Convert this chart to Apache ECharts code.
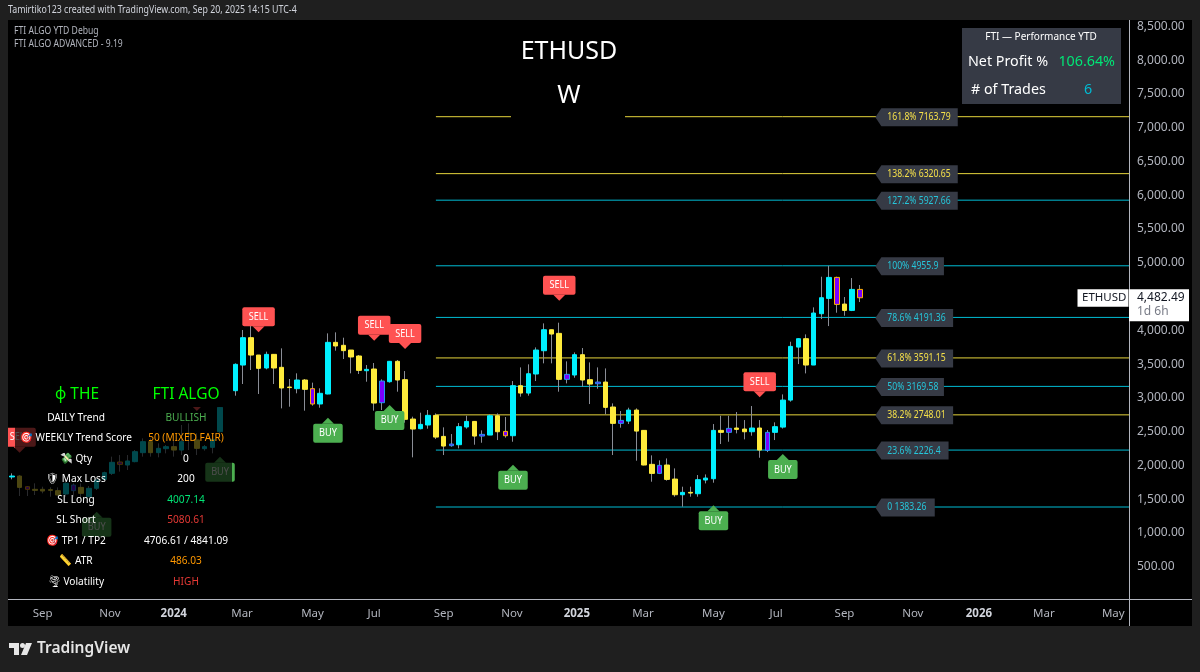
<!DOCTYPE html>
<html><head><meta charset="utf-8">
<style>html,body{margin:0;padding:0;background:#1f1f1f}#c{width:1200px;height:672px}</style>
<script src="https://cdn.jsdelivr.net/npm/echarts@6/dist/echarts.min.js"></script>
</head><body><div id="c"></div>
<script>
const lastWeek = '2025-09-15';
const opens = [1828,1842,1684,1645,1645,1640,1625,1576,1625,1674,1536,1660,1793,1882,2050,2005,2055,2188,2351,2188,2247,2277,2227,2474,2376,2247,2267,2499,null,
3106,3486,3891,3634,3442,3644,3452,3160,3136,3264,3136,2909,3057,3822,3778,3708,3620,3402,3427,2928,3239,3541,3269,2686,2543,2598,2740,
2429,2291,2306,2568,2651,2434,2449,2735,2503,2439,3180,3071,3353,3698,4009,3955,3274,3338,3639,3269,3209,3234,2864,2622,2656,2819,2518,2015,1881,2005,1797,1565,1600,1580,1783,1802,2518,2489,2553,2538,2498,2553,2222,2489,
2567,2967,3752,3876,3486,4246,4473,4784,4389,4295,4606];
const closes = [1842,1674,1645,1630,1620,1630,1561,1734,1709,1586,1660,1783,1892,2045,2015,2065,2203,2351,2188,2252,2277,2227,2351,2464,2252,2277,2385,2859,null,
3496,3891,3634,3437,3644,3442,3146,3152,3264,3126,2909,3067,3822,3768,3699,3605,3407,3422,2923,3249,3541,3264,2682,2538,2607,2741,2419,
2286,2316,2573,2651,2434,2459,2735,2498,2439,3180,3071,3357,3708,4009,3945,3274,3348,3639,3264,3204,3234,2859,2622,2666,2819,2508,2005,1881,2000,1792,1565,1600,1590,1788,1812,2518,2489,2548,2533,2498,2553,2227,2489,2573,
2967,3762,3876,3486,4256,4483,4784,4384,4295,4606,4482.49];
const lows = [1793,1546,1546,1561,1586,1536,1551,1536,1536,1512,1536,1635,1783,1857,1907,1931,2045,2129,2129,2119,2178,2129,2153,2227,2153,2218,2178,2400,null,
3032,3205,3412,3057,3422,3205,2844,2869,3067,2810,2884,2854,3052,3699,3575,3363,3353,3239,2810,2820,3225,3091,2632,2119,2533,2543,2390,
2153,2276,2252,2543,2306,2335,2449,2375,2410,2350,3017,3032,3249,3511,3511,3091,3214,3298,3165,2908,3135,2755,2153,2558,2612,2069,2000,1758,1871,1773,1536,1388,1536,1536,1733,1743,2316,2350,2474,2385,2439,2113,2197,2375,
2545,2943,3500,3362,3486,4167,4063,4261,4216,4285,4419];
const highs = [1882,1857,1694,1734,1684,1674,1674,1758,1734,1734,1694,1808,1907,2129,2153,2153,2227,2400,2400,2326,2301,2376,2598,2622,2474,2301,2474,2869,null,
3511,4005,4064,3634,3684,3644,3733,3279,3363,3279,3225,3141,3955,3970,3891,3708,3634,3486,3516,3274,3546,3560,3397,2721,2780,2820,2770,
2563,2464,2627,2735,2656,2518,2755,2770,2716,3249,3451,3496,3747,4103,4009,4113,3540,3673,3738,3525,3451,3436,2918,2805,2854,2844,2523,2148,2074,2103,1955,1684,1684,1857,1866,2612,2735,2735,2790,2671,2879,2671,2523,2637,
3051,3831,3881,3940,4340,4794,4956,4794,4493,4774,4671];
const purpleWeeks = [2,8,14,39,48,57,61,64,72,76,79,84,93,98,107,110];
const signalWeeks = [32,47,51,71,97,41,49,65,91,100,1,24,27,11];
const signalPrices = [3970,3846,3723,4438,3008,2706,2894,2010,1409,2168,2187,2805,2128,1313];
const signalTypes = ['SELL','SELL','SELL','SELL','SELL','BUY','BUY','BUY','BUY','BUY','SELL','SELL','BUY','BUY'];
const fibNames = ['161.8%','138.2%','127.2%','100%','78.6%','61.8%','50%','38.2%','23.6%','0'];
const fibValues = [7163.79,6320.65,5927.66,4955.9,4191.36,3591.15,3169.58,2748.01,2226.4,1383.26];
const fibStartWeek = 55;
const fibTagDate = '2025-09-29';
const monthDates = ['2023-09-04','2023-11-04','2024-01-01','2024-03-03','2024-05-06','2024-07-01','2024-09-02','2024-11-03','2025-01-01','2025-03-02','2025-05-05','2025-07-01','2025-09-01','2025-11-02','2026-01-01','2026-03-01','2026-05-03'];
const monthLabels = ['Sep','Nov','2024','Mar','May','Jul','Sep','Nov','2025','Mar','May','Jul','Sep','Nov','2026','Mar','May'];
const tableRows = [
 ['DAILY Trend','BULLISH','#4caf50'],
 ['\u{1F3AF} WEEKLY Trend Score','50 (MIXED FAIR)','#ff9800'],
 ['\u{1F4B8} Qty','0','#ffffff'],
 ['\u{1F6E1} Max Loss','200','#ffffff'],
 ['SL Long','4007.14','#00e676'],
 ['SL Short','5080.61','#e53935'],
 ['\u{1F3AF} TP1 / TP2','4706.61 / 4841.09','#ffffff'],
 ['\u{1F4CF} ATR','486.03','#ff9800'],
 ['\u{1F32A} Volatility','HIGH','#e53935']
];

const WEEK = 7*864e5;
const T_LAST = Date.parse(lastWeek);
const T_FIRST = T_LAST - 110*WEEK;
const weekTs = i => T_FIRST + i*WEEK;
const T_MIN = T_LAST - 110.5*WEEK, T_MAX = T_LAST + 34.9*WEEK;
const CYAN='#00f0ff', YEL='#ffeb3b', PUR='#7b00ff', WICK='#8a8d96', TXT='#b2b5be';
const FONT='"Noto Sans"';

const wickData=[], bodyData=[];
opens.forEach((o,i)=>{
  if(o==null) return;
  const c=closes[i], t=weekTs(i);
  wickData.push([t,o,c,lows[i],highs[i]]);
  const item={value:[t,o,c,Math.min(o,c),Math.max(o,c)]};
  if(purpleWeeks.includes(i)){
    const b=c>=o?'#2196f3':'#ffb300';
    item.itemStyle={color:PUR,color0:PUR,borderColor:b,borderColor0:b};
  }
  bodyData.push(item);
});

const fibColor = n => ['161.8%','138.2%','61.8%','38.2%'].includes(n)?'#e6d53c':'#00bcd4';
const fibLines = fibNames.map((n,i)=>({type:'line',silent:true,z:1,showSymbol:false,symbol:'none',animation:false,
  lineStyle:{color:fibColor(n),width:1},data:[[weekTs(fibStartWeek),fibValues[i]],[T_MAX,fibValues[i]]]}));

const fibTags={type:'custom',silent:true,z:4,animation:false,
  data:fibValues.map(v=>[Date.parse(fibTagDate),v]),
  encode:{x:0,y:1},
  renderItem(params,api){
    const p=api.coord([api.value(0),api.value(1)]);
    const name=fibNames[params.dataIndex];
    const text=name+' '+fibValues[params.dataIndex];
    const w=text.length*4.6+12, x=p[0], y=p[1]+0.5;
    const col=fibColor(name)==='#00bcd4'?'#26c6da':'#f5e04a';
    return {type:'group',children:[
      {type:'polygon',shape:{points:[[x,y],[x+6,y-9],[x+6+w,y-9],[x+6+w,y+9],[x+6,y+9]]},style:{fill:'#363a45'}},
      {type:'text',x:x+12,y:y,scaleX:0.82,style:{text,x:0,y:0,fill:col,font:'10.5px '+FONT,align:'left',verticalAlign:'middle'}}
    ]};
  }};

const signals={type:'custom',silent:true,z:5,animation:false,
  data:signalWeeks.map((w,i)=>[weekTs(w),signalPrices[i]]),
  encode:{x:0,y:1},
  renderItem(params,api){
    const p=api.coord([api.value(0),api.value(1)]);
    const sell=signalTypes[params.dataIndex]==='SELL';
    const w=sell?32.5:29.5,h=19,x=p[0],y=p[1];
    const fill=sell?'#ff5252':'#4caf50';
    const top=sell?y-6-h:y+6;
    const tri=sell?[[x-6,y-6],[x+6,y-6],[x,y]]:[[x-6,y+6],[x+6,y+6],[x,y]];
    return {type:'group',children:[
      {type:'rect',shape:{x:x-w/2,y:top,width:w,height:h,r:2},style:{fill}},
      {type:'polygon',shape:{points:tri},style:{fill}},
      {type:'text',x:x,y:top+h/2,scaleX:0.87,style:{text:signalTypes[params.dataIndex],x:0,y:0,fill:'#ffffff',font:'10.5px '+FONT,align:'center',verticalAlign:'middle'}}
    ]};
  }};

const priceTag={type:'custom',silent:true,z:60,animation:false,
  data:[[T_LAST,closes[closes.length-1]]],encode:{x:0,y:1},
  renderItem(params,api){
    const y=api.coord([api.value(0),api.value(1)])[1];
    const val=api.value(1).toLocaleString('en-US',{minimumFractionDigits:2});
    return {type:'group',children:[
      {type:'rect',shape:{x:1077.5,y:y-8.5,width:51,height:17.5},style:{fill:'#ffffff'}},
      {type:'rect',shape:{x:1129,y:y-8.5,width:60,height:32},style:{fill:'#ffffff'}},
      {type:'text',style:{text:'ETHUSD',x:1082,y:y,fill:'#131722',font:'11.5px '+FONT,verticalAlign:'middle',align:'left'}},
      {type:'text',style:{text:val,x:1137,y:y,fill:'#131722',font:'12px '+FONT,verticalAlign:'middle',align:'left'}},
      {type:'text',style:{text:'1d 6h',x:1137,y:y+14,fill:'#787b86',font:'12px '+FONT,verticalAlign:'middle',align:'left'}}
    ]};
  }};

const g=[];
const T=(text,x,y,fill,size,align,sx,weight)=>g.push({type:'text',z:60,silent:true,x,y,scaleX:sx||1,style:{text,x:0,y:0,fill,font:(weight?weight+' ':'')+size+'px '+FONT,align:align||'left',verticalAlign:'middle'}});
// panels
g.push({type:'rect',z:-1,silent:true,shape:{x:8,y:20,width:1184,height:606},style:{fill:'#000'}});
g.push({type:'rect',z:50,silent:true,shape:{x:0,y:20,width:8,height:606},style:{fill:'#1f1f1f'}});
g.push({type:'line',z:3,silent:true,shape:{x1:1129.5,y1:20,x2:1129.5,y2:626},style:{stroke:'#b2b5be',lineWidth:1}});
g.push({type:'line',z:3,silent:true,shape:{x1:8,y1:599.5,x2:1192,y2:599.5},style:{stroke:'#b2b5be',lineWidth:1}});
// dim table
g.push({type:'rect',z:50,silent:true,shape:{x:15,y:407,width:217,height:186},style:{fill:'rgba(0,0,0,0.7)'}});
g.push({type:'rect',z:50,silent:true,shape:{x:15,y:380,width:217,height:27},style:{fill:'#000'}});
T('\u03C6 THE',77,394.5,'#00ff00',15.5,'center');
T('FTI ALGO',186,394.5,'#00ff00',15.5,'center');
tableRows.forEach((r,i)=>{const y=417.5+i*20.5;T(r[0],76,y,'#ffffff',11,'center',0.92);T(r[1],186,y,r[2],11,'center',0.92);});
// title
g.push({type:'rect',z:50,silent:true,shape:{x:511,y:30,width:114,height:90},style:{fill:'#000'}});
T('ETHUSD',569,51.5,'#ffffff',25,'center');
T('W',569,96,'#ffffff',25,'center');
// perf
g.push({type:'rect',z:50,silent:true,shape:{x:962,y:28,width:159,height:76},style:{fill:'#363a45'}});
T('FTI \u2014 Performance YTD',1041,37,'#ffffff',10,'center');
T('Net Profit %',968,62,'#ffffff',14.3);
T('106.64%',1115,62,'#00e676',14.3,'right');
T('# of Trades',971,90,'#ffffff',14.3);
T('6',1088,90,'#00bcd4',14.3,'center');
// header
T('Tamirtiko123 created with TradingView.com, Sep 20, 2025 14:15 UTC-4',8,10.5,'#d1d4dc',10,'left',0.88);
T('FTI ALGO YTD Debug',14,31,'#b2b5be',10,'left',0.86);
T('FTI ALGO ADVANCED - 9.19',14,44.5,'#b2b5be',10,'left',0.86);
// logo
g.push({type:'polygon',z:60,silent:true,shape:{points:[[9,643],[19,643],[19,655],[14,655],[14,648],[9,648]]},style:{fill:'#e6e6e6'}});
g.push({type:'circle',z:60,silent:true,shape:{cx:22.5,cy:645.5,r:2.5},style:{fill:'#e6e6e6'}});
g.push({type:'polygon',z:60,silent:true,shape:{points:[[26,643],[32,643],[27,655],[21,655]]},style:{fill:'#e6e6e6'}});
T('TradingView',37,649,'#e6e6e6',15.5,'left',1,'600');

const chart=echarts.init(document.getElementById('c'),null,{renderer:'canvas'});
chart.setOption({
  backgroundColor:'#1f1f1f',animation:false,
  grid:{left:8,top:26.5,width:1121,height:573.9,containLabel:false},
  xAxis:{type:'value',scale:true,min:T_MIN,max:T_MAX,
    axisLine:{show:false},axisTick:{show:false},splitLine:{show:false},
    axisLabel:{customValues:monthDates.map(d=>Date.parse(d)),hideOverlap:false,showMinLabel:true,showMaxLabel:true,margin:7,color:TXT,fontFamily:FONT,fontSize:11.5,
      formatter(v){const i=monthDates.findIndex(d=>Date.parse(d)===v);const s=monthLabels[i];return /^\d+$/.test(s)?'{b|'+s+'}':s;},
      rich:{b:{fontWeight:'bold',color:'#d1d4dc',fontFamily:FONT,fontSize:11.5}}}},
  yAxis:{type:'value',position:'right',min:0,max:8500,interval:500,scale:false,
    axisLine:{show:false},axisTick:{show:false},splitLine:{show:false},
    axisLabel:{margin:8,color:TXT,fontFamily:FONT,fontSize:12,showMinLabel:true,showMaxLabel:true,hideOverlap:false,padding:[0,0,3,0],
      formatter:v=>v===0?'':v.toLocaleString('en-US',{minimumFractionDigits:2})}},
  graphic:{elements:g},
  series:[
    ...fibLines,
    {type:'candlestick',name:'Wicks',z:2,silent:true,barWidth:1,data:wickData,
     itemStyle:{color:WICK,color0:WICK,borderColor:WICK,borderColor0:WICK,borderWidth:1}},
    {type:'candlestick',name:'ETHUSD',z:3,silent:true,barWidth:5,data:bodyData,
     itemStyle:{color:CYAN,color0:YEL,borderColor:CYAN,borderColor0:YEL,borderWidth:1}},
    fibTags,signals,priceTag
  ]
});
</script></body></html>
